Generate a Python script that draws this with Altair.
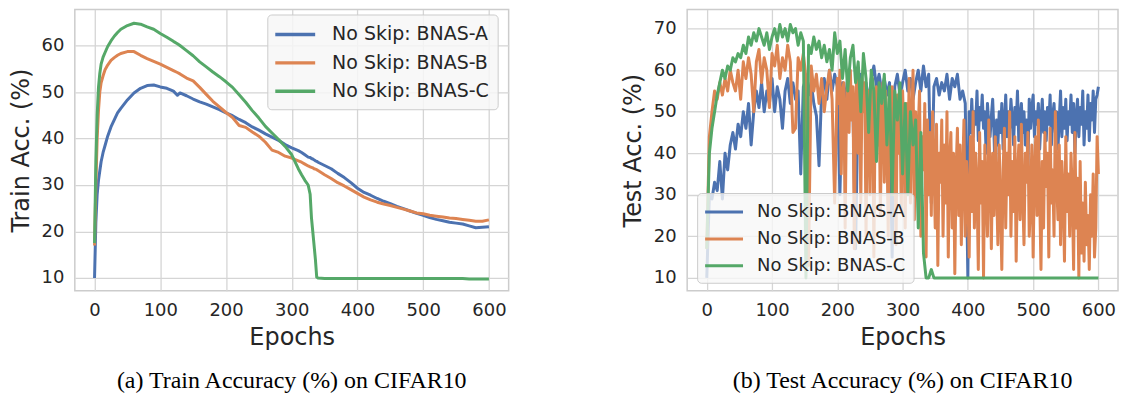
import altair as alt
import pandas as pd

SERIES = ["No Skip: BNAS-A", "No Skip: BNAS-B", "No Skip: BNAS-C"]
COLORS = ["#4C72B0", "#DD8452", "#55A868"]

# ---------------- Train accuracy (left panel) ----------------
train_epochs = [0, 2, 4, 6, 8, 10, 13, 16, 20, 25, 30, 35, 40, 50, 60, 70, 80, 90,
                100, 110, 120, 126, 130, 140, 150, 160, 170, 180, 190, 200, 210, 220,
                230, 240, 250, 260, 270, 280, 290, 300, 310, 315, 320, 325, 328, 330,
                332, 334, 336, 338, 340, 350, 360, 370, 380, 390, 400, 410, 420, 430,
                440, 450, 460, 470, 480, 490, 500, 510, 520, 530, 540, 550, 560, 570,
                580, 590, 600]
train_a = [10, 22, 28, 31, 33, 35, 37, 38.5, 40.5, 42.5, 44, 45.5, 46.5, 48.3, 49.8,
           50.8, 51.4, 51.5, 51.1, 50.8, 50.2, 49.3, 49.8, 49.2, 48.5, 47.9, 47.4, 46.8,
           46.2, 45.5, 44.9, 44.1, 43.4, 42.5, 41.8, 41, 40.3, 39.6, 38.7, 38, 37.4, 37,
           36.5, 36, 35.9, 35.7, 35.6, 35.4, 35.2, 35.1, 34.9, 34.2, 33.5, 32.5, 31.6,
           30.5, 29.3, 28.4, 27.8, 27.1, 26.5, 26, 25.4, 24.9, 24.4, 23.9, 23.5, 23,
           22.6, 22.3, 22, 21.8, 21.6, 21.2, 20.8, 20.9, 21]
train_b = [17, 30, 40, 46, 50, 52, 53.5, 54.8, 55.8, 56.8, 57.4, 57.9, 58.3, 58.7, 58.7,
           57.9, 57.2, 56.6, 56, 55.3, 54.6, 54.2, 53.9, 53, 52.4, 51, 49.5, 48, 46.8,
           45.6, 44.5, 42.8, 42.4, 41.4, 40.5, 39.2, 37.5, 37, 36.2, 35.8, 35.2, 34.9,
           34.5, 34.1, 33.9, 33.8, 33.7, 33.5, 33.4, 33.3, 33.1, 32.2, 31.4, 30.5, 29.8,
           29, 28.2, 27.4, 26.8, 26.3, 25.9, 25.6, 25.2, 24.8, 24.4, 24, 23.8, 23.5,
           23.3, 23.1, 22.9, 22.8, 22.6, 22.4, 22.2, 22.2, 22.5]
train_c = [17.5, 35, 45, 51, 54, 56, 57.5, 58.5, 59.8, 61, 62, 62.8, 63.5, 64.3, 64.8,
           64.6, 64, 63.5, 62.6, 61.8, 60.9, 60.4, 60, 58.9, 57.8, 56.5, 55.4, 54.3,
           53.3, 52.2, 51, 49.4, 47.8, 46, 44.4, 42.6, 41.2, 39.8, 38.3, 36.5, 33.5,
           32.2, 31, 30, 28, 23, 20, 17, 14, 10.2, 10, 9.9, 9.9, 9.9, 9.9, 9.9, 9.9,
           9.9, 9.9, 9.9, 9.9, 9.9, 9.9, 9.9, 9.9, 9.9, 9.9, 9.9, 9.9, 9.9, 9.9, 9.9,
           9.9, 9.8, 9.8, 9.8, 9.8]

# ---------------- Test accuracy (right panel) ----------------
# BNAS-A: every 4 epochs for 0..396, every 2 epochs for 400..600
test_a_epochs = list(range(0, 400, 4)) + list(range(400, 601, 2))
test_a = [10, 30, 29, 33, 31, 38, 29, 40, 36, 42, 45, 41, 47, 44, 50, 46, 52, 42, 50, 55,
          51, 57, 50, 55, 52, 58, 50, 56, 53, 46, 55, 58, 52, 57, 53, 55, 35, 56, 58, 54,
          57, 52, 49, 37, 55, 58, 53, 60, 55, 59, 56, 30, 57, 53, 58, 55, 50, 17, 55, 59,
          54, 57, 52, 58, 61, 56, 59, 55, 58, 54, 57, 15, 56, 59, 54, 57, 60, 55, 58, 53,
          57, 60, 55, 61, 56, 59, 28, 56, 58, 54, 57, 55, 59, 53, 58, 56, 59, 53, 55, 52,
          10, 50, 45, 53, 44, 50, 47, 55, 43, 51,
          48, 54, 46, 50, 40, 52, 47, 44, 49, 53,
          45, 33, 48, 42, 50, 45, 52, 41, 47, 54,
          44, 50, 46, 53, 48, 42, 51, 47, 55, 43,
          49, 52, 45, 50, 42, 48, 37, 53, 46, 51,
          54, 44, 50, 47, 52, 41, 48, 53, 45, 50,
          43, 51, 47, 54, 42, 49, 52, 45, 50, 41,
          48, 55, 44, 51, 46, 53, 43, 50, 47, 54,
          45, 52, 40, 49, 53, 44, 51, 47, 55, 42,
          50, 46, 54, 43, 52, 48, 55, 45, 53, 54,
          56]
# BNAS-B: every 4 epochs for 0..196, every 2 epochs for 200..600
test_b_epochs = list(range(0, 200, 4)) + list(range(200, 601, 2))
test_b = [17, 44, 50, 55, 53, 57, 54, 58, 55, 60, 57, 55, 60, 53, 62, 58, 63, 59, 50, 62,
          65, 57, 63, 60, 51, 64, 61, 66, 58, 63, 60, 66, 62, 45, 46, 63, 60, 64, 58, 13,
          61, 55, 59, 52, 58, 50, 56, 60, 53, 28,
          58, 52, 60, 35, 55, 57, 22, 50, 58, 45,
          60, 48, 56, 17, 52, 59, 40, 55, 28, 58,
          50, 57, 20, 48, 55, 30, 53, 58, 15, 50,
          56, 42, 54, 25, 50, 57, 33, 55, 44, 20,
          52, 38, 56, 30, 48, 18, 54, 40, 50, 26,
          55, 45, 22, 52, 35, 58, 28, 47, 60, 24,
          50, 32, 46, 55, 20, 44, 36, 52, 15, 48,
          30, 45, 25, 50, 38, 22, 47, 13, 40, 33,
          48, 20, 42, 28, 50, 15, 38, 45, 22, 40,
          11, 36, 46, 25, 42, 18, 35, 48, 20, 38,
          30, 15, 44, 26, 50, 22, 40, 32, 12, 45,
          28, 38, 10, 42, 30, 20, 48, 35, 17, 40,
          25, 44, 32, 18, 42, 28, 12, 36, 46, 22,
          40, 30, 50, 20, 38, 26, 44, 14, 35, 42,
          24, 47, 30, 18, 40, 33, 45, 20, 28, 42,
          15, 36, 44, 25, 48, 30, 12, 38, 22, 45,
          32, 40, 15, 46, 28, 36, 20, 50, 34, 24,
          42, 18, 38, 30, 14, 44, 26, 35, 20, 40,
          30, 12, 45, 22, 34, 10, 38, 16, 28, 14,
          33, 18, 25, 12, 30, 20, 35, 15, 22, 44,
          35]
# BNAS-C: every 4 epochs
test_c_epochs = list(range(0, 601, 4))
test_c = [17, 40, 46, 50, 54, 57, 60, 58, 61, 60, 63, 62, 64, 63, 66, 64, 68, 66, 69, 67,
          70, 68, 66, 69, 65, 68, 70, 67, 71, 68, 70, 67, 71, 69, 70, 66, 69, 67, 10, 66,
          64, 68, 65, 67, 63, 66, 62, 65, 60, 69, 64, 67, 58, 65, 55, 63, 66, 57, 62, 50,
          64, 58, 45, 60, 55, 38, 57, 52, 59, 42, 56, 30, 55, 48, 57, 35, 52, 30, 50, 42,
          48, 22, 45, 16, 10, 10, 12, 10, 10, 10, 10, 10, 10, 10, 10, 10, 10, 10, 10, 10,
          10, 10, 10, 10, 10, 10, 10, 10, 10, 10, 10, 10, 10, 10, 10, 10, 10, 10, 10, 10,
          10, 10, 10, 10, 10, 10, 10, 10, 10, 10, 10, 10, 10, 10, 10, 10, 10, 10, 10, 10,
          10, 10, 10, 10, 10, 10, 10, 10, 10, 10, 10]

x_ticks = [0, 100, 200, 300, 400, 500, 600]
train_y_ticks = [10, 20, 30, 40, 50, 60]
test_y_ticks = [10, 20, 30, 40, 50, 60, 70]


def long_df(epoch_lists, series_values):
    rows = []
    for name, eps, vals in zip(SERIES, epoch_lists, series_values):
        for e, v in zip(eps, vals):
            rows.append({"epoch": e, "acc": v, "series": name})
    return pd.DataFrame(rows)


train_df = long_df([train_epochs] * 3, [train_a, train_b, train_c])
test_df = long_df([test_a_epochs, test_b_epochs, test_c_epochs], [test_a, test_b, test_c])

FONT = "DejaVu Sans"
LINE_SYMBOL = "M-2,0L2,0"


def panel(df, ytitle, ydomain, yticks, caption, width, stroke, legend):
    return alt.Chart(df).mark_line(strokeWidth=stroke, strokeJoin="round", clip=True).encode(
        x=alt.X("epoch:Q", scale=alt.Scale(domain=[-30, 630], nice=False, zero=False),
                axis=alt.Axis(values=x_ticks, title="Epochs", format="d")),
        y=alt.Y("acc:Q", scale=alt.Scale(domain=ydomain, nice=False, zero=False),
                axis=alt.Axis(values=yticks, title=ytitle, format="d")),
        color=alt.Color("series:N", scale=alt.Scale(domain=SERIES, range=COLORS),
                        legend=legend),
        order=alt.Order("epoch:Q"),
    ).properties(
        width=width, height=282,
        title=alt.TitleParams(text=caption, orient="bottom", anchor="middle",
                              font="Liberation Serif", fontSize=24, fontWeight="normal",
                              color="#000000", offset=20),
    )


left_legend = alt.Legend(orient="none", legendX=193, legendY=5, title=None,
                         symbolType=LINE_SYMBOL, symbolSize=400, symbolStrokeWidth=3.5,
                         symbolOffset=8,
                         labelFontSize=19, labelFont=FONT, labelColor="#262626",
                         labelOffset=25, padding=8, rowPadding=6.5,
                         fillColor="rgba(247,247,247,0.85)", strokeColor="#cccccc",
                         cornerRadius=4)
right_legend = alt.Legend(orient="none", legendX=10, legendY=184, title=None,
                          symbolType=LINE_SYMBOL, symbolSize=361, symbolStrokeWidth=3,
                          symbolOffset=8,
                          labelFontSize=18, labelFont=FONT, labelColor="#262626",
                          labelOffset=22, padding=8, rowPadding=7,
                          fillColor="rgba(247,247,247,0.8)", strokeColor="#cccccc",
                          cornerRadius=4)

left = panel(train_df, "Train Acc. (%)", [7.25, 67.75], train_y_ticks,
             "(a) Train Accuracy (%) on CIFAR10", 435, 3, left_legend)
right = panel(test_df, "Test Acc. (%)", [6.9, 74.6], test_y_ticks,
              "(b) Test Accuracy (%) on CIFAR10", 432, 3, right_legend)

chart = alt.hconcat(left, right, spacing=111).resolve_scale(
    color="independent"
).resolve_legend(color="independent").properties(
    padding={"left": 0, "top": 0, "right": 0, "bottom": 0}
).configure(
    background="white",
).configure_view(
    stroke="#cccccc", strokeWidth=1.5,
).configure_axis(
    labelFont=FONT, labelFontSize=18, labelColor="#262626", labelPadding=11,
    titleFont=FONT, titleFontSize=24, titleFontWeight="normal", titleColor="#262626",
    titlePadding=8, tickSize=0, ticks=False, domain=False,
    grid=True, gridColor="#d5d5d5", gridWidth=1.3,
).configure_axisX(
    titlePadding=6,
)

chart.save("out.html", embed_options={"renderer": "svg", "actions": False})
